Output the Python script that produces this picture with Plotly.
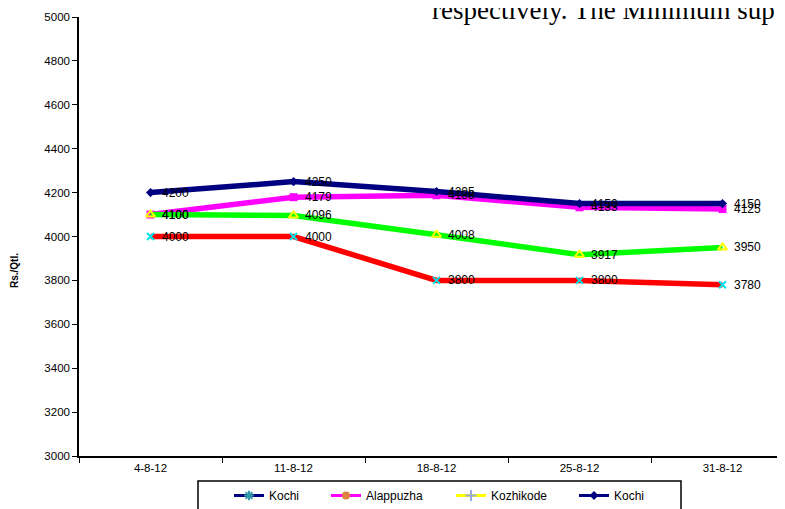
import plotly.graph_objects as go

dates = ["4-8-12", "11-8-12", "18-8-12", "25-8-12", "31-8-12"]
kochi_a = [4000, 4000, 3800, 3800, 3780]
alappuzha = [4100, 4179, 4188, 4133, 4125]
kozhikode = [4100, 4096, 4008, 3917, 3950]
kochi_b = [4200, 4250, 4205, 4150, 4150]
legend_names = ["Kochi", "Alappuzha", "Kozhikode", "Kochi"]
y_ticks = list(range(3000, 5001, 200))

FONT = "Arial, Liberation Sans, sans-serif"
PAGE_OFF = 8  # default body margin of the html page
L, T, PW, PH = 79, 17, 706, 439  # plot area in window pixels


def px_x(p):
    return (p - L) / PW


def px_y(p):
    return (T + PH - p) / PH


series = [
    (kochi_a, "#FF0000", dict(symbol="x-thin-open", size=7, color="#00E5EE", line=dict(width=2, color="#00E5EE"))),
    (alappuzha, "#FF00FF", dict(symbol="square", size=8, color="#FF00FF")),
    (kozhikode, "#00FF00", dict(symbol="triangle-up-open", size=8, color="#FFFF00", line=dict(width=2, color="#FFFF00"))),
    (kochi_b, "#000080", dict(symbol="diamond", size=7, color="#000080")),
]

fig = go.Figure()
for vals, col, mk in series:
    fig.add_trace(go.Scatter(
        x=dates, y=vals, mode="lines+markers",
        line=dict(color=col, width=5.5), marker=mk, showlegend=False,
        hoverinfo="x+y",
    ))

# legend entries styled as in the reference legend
legend_styles = [
    ("#000080", dict(symbol="asterisk-open", size=8, color="#3399AA", line=dict(width=2, color="#3399AA"))),
    ("#FF00FF", dict(symbol="circle", size=8, color="#E08040")),
    ("#FFFF00", dict(symbol="cross-thin-open", size=8, color="#99AADD", line=dict(width=2, color="#99AADD"))),
    ("#000080", dict(symbol="diamond", size=7, color="#000080")),
]
legend_ids = ["legend", "legend2", "legend3", "legend4"]
legend_px = [229, 326, 451, 574]
for name, (col, mk), lid in zip(legend_names, legend_styles, legend_ids):
    fig.add_trace(go.Scatter(
        x=[None], y=[None], mode="lines+markers", name=name,
        line=dict(color=col, width=3), marker=mk, showlegend=True, legend=lid,
    ))

annotations = []
for vals, col, mk in series:
    for d, v in zip(dates, vals):
        annotations.append(dict(
            x=d, y=v, xref="x", yref="y", text=str(v), showarrow=False,
            xanchor="left", yanchor="middle", xshift=9, yshift=0,
            font=dict(family=FONT, size=12, color="#000000"),
        ))

annotations.append(dict(
    text="Rs./Qtl.", x=px_x(14), y=px_y(271), xref="paper", yref="paper",
    showarrow=False, textangle=-90, xanchor="center", yanchor="middle",
    font=dict(family=FONT, size=10, color="#000000", weight="bold"),
))
annotations.append(dict(
    text="respectively. The Minimum sup", x=px_x(430), y=px_y(10), xref="paper", yref="paper",
    showarrow=False, xanchor="left", yanchor="middle",
    font=dict(family="Liberation Serif, Times New Roman, serif", size=27, color="#000000"),
))

legends = {}
for lid, lx in zip(legend_ids, legend_px):
    legends[lid] = dict(
        orientation="h", x=px_x(lx), y=px_y(481),
        xanchor="left", yanchor="top", bgcolor="rgba(0,0,0,0)", borderwidth=0,
        font=dict(family=FONT, size=12, color="#000000"), itemwidth=30,
    )

W, H = 785 - PAGE_OFF, 509 - PAGE_OFF
fig.update_layout(
    width=W, height=H,
    margin=dict(l=L - PAGE_OFF, r=0, t=T - PAGE_OFF, b=H - (T - PAGE_OFF) - PH, autoexpand=False),
    paper_bgcolor="white", plot_bgcolor="white",
    font=dict(family=FONT, size=11.5, color="#000000"),
    annotations=annotations,
    shapes=[dict(
        type="rect", xref="paper", yref="paper",
        x0=px_x(198), x1=px_x(681), y0=px_y(481), y1=px_y(530),
        line=dict(color="#000000", width=1.5), fillcolor="rgba(0,0,0,0)", layer="below",
    )],
    xaxis=dict(
        type="category", categoryorder="array", categoryarray=dates,
        range=[-0.5, 4.437], showline=True, linecolor="#000000", linewidth=1.5,
        ticks="outside", tickson="boundaries", ticklen=5, tickcolor="#000000",
        showgrid=False, zeroline=False, tickfont=dict(size=11.5), automargin=False,
    ),
    yaxis=dict(
        range=[3000, 5000], tickvals=y_ticks, showline=True, linecolor="#000000",
        linewidth=1.5, ticks="outside", ticklen=5, tickcolor="#000000",
        showgrid=False, zeroline=False, tickfont=dict(size=11.5), automargin=False,
    ),
    **legends,
)

fig.write_html("out.html")
